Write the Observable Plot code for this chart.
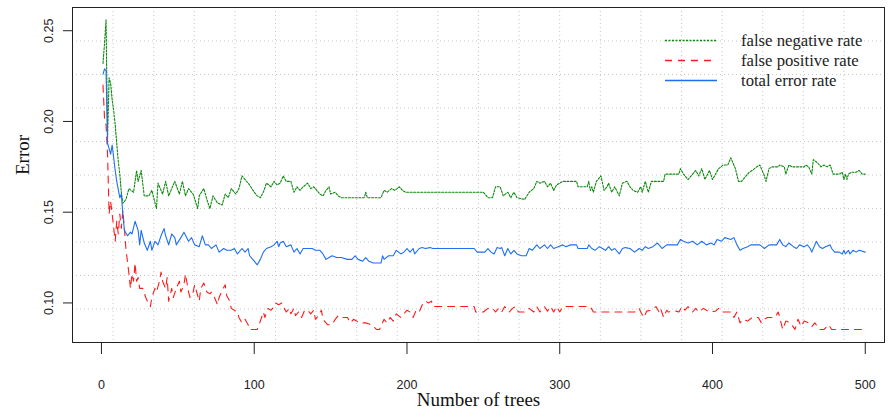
<!DOCTYPE html>
<html><head><meta charset="utf-8">
<script src="https://cdn.jsdelivr.net/npm/d3@7"></script>
<script src="https://cdn.jsdelivr.net/npm/@observablehq/plot@0.6"></script>
<style>
body{margin:0;background:#fff;}
#wrap{position:relative;width:890px;height:410px;overflow:hidden;background:#fff;}
#legend{position:absolute;left:0;top:0;}
</style></head><body><div id="wrap"></div>
<script>
const seriesNames = ["false negative rate", "false positive rate", "total error rate"];
const seriesColors = ["#0b8a0b", "#ff1a1a", "#1f6ff2"];
const seriesDash = ["2,1.5", "7,6", "none"];
const xTicks = [0, 100, 200, 300, 400, 500];
const yTicks = [0.10, 0.15, 0.20, 0.25];
const xLabel = "Number of trees";
const yLabel = "Error";

// false negative rate (green, dotted): [trees, error]
const fnRate = [[1,0.232],[2,0.243],[3,0.256],[4,0.191],[5,0.224],[6,0.221],[7,0.212],[8,0.206],[9,0.198],[10,0.188],[11,0.178],[12,0.171],[13,0.161],[14,0.155],[16,0.157],[18,0.163],[21,0.161],[23,0.173],[24,0.167],[26,0.173],[28,0.159],[31,0.159],[33,0.162],[36,0.152],[37,0.166],[40,0.160],[42,0.167],[44,0.159],[46,0.163],[48,0.167],[51,0.160],[53,0.167],[55,0.159],[57,0.163],[60,0.160],[63,0.152],[64,0.159],[67,0.163],[69,0.157],[71,0.152],[73,0.159],[76,0.155],[79,0.154],[81,0.160],[83,0.158],[85,0.163],[88,0.160],[90,0.163],[92,0.170],[94,0.168],[97,0.165],[100,0.161],[102,0.159],[104,0.158],[106,0.161],[108,0.166],[111,0.164],[113,0.167],[115,0.165],[117,0.166],[119,0.170],[121,0.167],[124,0.167],[126,0.161],[128,0.164],[130,0.162],[132,0.164],[135,0.166],[137,0.163],[139,0.164],[141,0.162],[143,0.160],[145,0.159],[147,0.162],[149,0.164],[150,0.160],[153,0.161],[155,0.159],[157,0.158],[172,0.158],[173,0.161],[174,0.158],[183,0.158],[185,0.162],[187,0.161],[190,0.163],[192,0.162],[195,0.164],[197,0.162],[199,0.161],[250,0.161],[253,0.158],[256,0.158],[258,0.164],[261,0.164],[263,0.159],[266,0.161],[268,0.158],[270,0.161],[272,0.158],[277,0.157],[280,0.161],[283,0.163],[285,0.167],[287,0.166],[290,0.167],[292,0.164],[294,0.166],[296,0.162],[298,0.165],[302,0.167],[311,0.167],[312,0.164],[318,0.164],[319,0.167],[320,0.162],[321,0.164],[322,0.161],[324,0.167],[327,0.170],[329,0.162],[331,0.164],[332,0.166],[334,0.161],[336,0.164],[339,0.159],[341,0.166],[344,0.167],[346,0.164],[348,0.162],[351,0.161],[353,0.164],[354,0.161],[356,0.167],[358,0.161],[360,0.167],[368,0.167],[369,0.171],[378,0.171],[379,0.174],[381,0.171],[384,0.168],[387,0.171],[389,0.173],[391,0.170],[393,0.174],[395,0.168],[398,0.173],[400,0.168],[402,0.171],[404,0.174],[407,0.176],[410,0.176],[412,0.180],[415,0.174],[417,0.167],[419,0.167],[422,0.170],[424,0.172],[426,0.173],[429,0.175],[431,0.176],[434,0.170],[435,0.167],[437,0.174],[439,0.175],[443,0.175],[444,0.176],[447,0.175],[448,0.171],[450,0.176],[452,0.175],[460,0.175],[461,0.176],[463,0.175],[465,0.171],[466,0.179],[469,0.177],[471,0.175],[473,0.176],[475,0.175],[477,0.176],[479,0.171],[483,0.171],[485,0.172],[486,0.168],[487,0.171],[488,0.168],[489,0.171],[491,0.172],[494,0.172],[496,0.173],[498,0.171],[500,0.171]];

// false positive rate (red, dashed)
const fpRate = [[1,0.220],[2,0.202],[3,0.198],[4,0.182],[5,0.149],[6,0.156],[7,0.149],[9,0.134],[10,0.145],[11,0.138],[12,0.149],[13,0.141],[14,0.151],[15,0.141],[16,0.130],[17,0.123],[18,0.116],[19,0.108],[20,0.116],[21,0.112],[22,0.122],[23,0.112],[24,0.114],[25,0.108],[27,0.108],[29,0.103],[30,0.101],[32,0.098],[33,0.103],[35,0.108],[36,0.106],[38,0.112],[39,0.117],[40,0.112],[42,0.108],[43,0.114],[44,0.101],[46,0.108],[47,0.103],[49,0.108],[51,0.112],[52,0.106],[54,0.110],[55,0.116],[57,0.106],[58,0.103],[60,0.106],[61,0.110],[64,0.101],[65,0.108],[67,0.111],[69,0.106],[71,0.105],[72,0.106],[74,0.103],[76,0.099],[77,0.103],[79,0.107],[81,0.110],[82,0.104],[84,0.101],[85,0.097],[87,0.096],[89,0.095],[90,0.092],[92,0.089],[94,0.091],[96,0.088],[97,0.0854],[102,0.0854],[104,0.090],[106,0.095],[107,0.092],[109,0.097],[111,0.096],[113,0.098],[114,0.100],[116,0.099],[118,0.100],[119,0.098],[121,0.095],[123,0.097],[124,0.094],[126,0.097],[127,0.093],[129,0.095],[131,0.092],[133,0.096],[135,0.096],[137,0.094],[139,0.096],[140,0.091],[142,0.093],[144,0.096],[145,0.091],[148,0.088],[151,0.088],[153,0.091],[155,0.093],[157,0.092],[161,0.092],[163,0.089],[165,0.091],[167,0.090],[169,0.089],[173,0.089],[177,0.088],[180,0.0854],[182,0.0854],[185,0.091],[187,0.089],[189,0.092],[191,0.090],[193,0.094],[196,0.092],[198,0.094],[200,0.096],[202,0.095],[204,0.092],[206,0.096],[208,0.095],[210,0.099],[212,0.101],[214,0.100],[216,0.101],[217,0.098],[244,0.098],[245,0.095],[250,0.095],[253,0.097],[256,0.097],[258,0.095],[260,0.097],[262,0.095],[264,0.098],[267,0.095],[269,0.097],[271,0.098],[273,0.095],[277,0.095],[280,0.097],[283,0.095],[285,0.098],[287,0.095],[290,0.098],[292,0.0955],[294,0.098],[296,0.095],[298,0.098],[300,0.095],[302,0.098],[320,0.098],[322,0.095],[349,0.095],[352,0.097],[353,0.095],[355,0.092],[357,0.0955],[360,0.096],[363,0.098],[365,0.095],[366,0.097],[368,0.092],[370,0.096],[371,0.095],[376,0.0955],[378,0.095],[380,0.098],[382,0.096],[384,0.098],[387,0.095],[389,0.097],[391,0.095],[394,0.097],[398,0.095],[402,0.0955],[404,0.097],[406,0.095],[412,0.095],[414,0.092],[416,0.095],[418,0.089],[420,0.091],[423,0.090],[426,0.092],[430,0.092],[432,0.089],[434,0.091],[436,0.092],[441,0.092],[443,0.095],[444,0.092],[446,0.0854],[448,0.090],[451,0.089],[454,0.0854],[456,0.091],[458,0.087],[460,0.090],[463,0.089],[465,0.087],[467,0.089],[470,0.0854],[473,0.0854],[476,0.088],[478,0.0854],[500,0.0854]];

// total error rate (blue, solid)
const totalRate = [[1,0.226],[2,0.229],[3,0.228],[4,0.188],[6,0.182],[7,0.187],[9,0.173],[10,0.167],[12,0.158],[13,0.160],[14,0.149],[15,0.140],[17,0.137],[19,0.139],[20,0.138],[22,0.145],[24,0.140],[25,0.132],[26,0.140],[28,0.133],[30,0.129],[32,0.134],[33,0.129],[35,0.134],[37,0.132],[39,0.137],[41,0.141],[42,0.137],[44,0.132],[46,0.138],[48,0.136],[49,0.132],[52,0.136],[54,0.139],[57,0.134],[59,0.136],[61,0.132],[64,0.131],[66,0.137],[68,0.132],[70,0.132],[72,0.130],[75,0.132],[77,0.128],[80,0.130],[82,0.129],[85,0.129],[87,0.130],[89,0.127],[92,0.130],[94,0.128],[96,0.130],[97,0.126],[100,0.123],[102,0.121],[104,0.124],[106,0.128],[108,0.130],[111,0.131],[113,0.132],[115,0.134],[116,0.131],[117,0.133],[119,0.134],[121,0.131],[124,0.132],[126,0.128],[128,0.130],[130,0.127],[132,0.130],[135,0.130],[138,0.130],[140,0.129],[143,0.129],[145,0.127],[147,0.124],[149,0.125],[151,0.126],[154,0.125],[157,0.125],[161,0.124],[164,0.124],[166,0.126],[168,0.124],[171,0.123],[173,0.125],[175,0.123],[178,0.122],[183,0.122],[184,0.126],[185,0.124],[188,0.126],[191,0.126],[193,0.129],[196,0.127],[198,0.128],[200,0.130],[202,0.128],[204,0.130],[205,0.127],[208,0.130],[210,0.1305],[212,0.130],[215,0.1305],[217,0.130],[244,0.130],[246,0.128],[251,0.128],[253,0.130],[255,0.128],[257,0.127],[259,0.1305],[261,0.130],[262,0.1305],[264,0.126],[266,0.130],[268,0.127],[270,0.129],[272,0.127],[275,0.126],[278,0.126],[280,0.130],[282,0.129],[285,0.132],[287,0.130],[290,0.132],[292,0.130],[294,0.132],[296,0.130],[299,0.131],[302,0.132],[304,0.131],[307,0.132],[311,0.132],[312,0.130],[318,0.130],[319,0.132],[321,0.130],[323,0.129],[326,0.131],[328,0.130],[330,0.129],[332,0.131],[334,0.129],[336,0.130],[339,0.127],[341,0.130],[343,0.1305],[346,0.130],[349,0.128],[352,0.130],[354,0.129],[356,0.131],[358,0.130],[361,0.131],[364,0.133],[366,0.131],[367,0.130],[370,0.132],[377,0.132],[379,0.135],[381,0.134],[384,0.133],[387,0.134],[390,0.132],[393,0.134],[396,0.132],[399,0.133],[401,0.132],[403,0.135],[406,0.134],[408,0.136],[412,0.135],[414,0.136],[416,0.132],[418,0.129],[420,0.130],[423,0.131],[425,0.132],[431,0.132],[434,0.130],[437,0.132],[442,0.132],[444,0.135],[446,0.132],[448,0.131],[450,0.133],[453,0.131],[455,0.130],[457,0.132],[460,0.131],[462,0.132],[464,0.130],[465,0.128],[468,0.134],[470,0.131],[472,0.130],[474,0.131],[477,0.132],[478,0.130],[480,0.128],[483,0.128],[485,0.127],[486,0.129],[487,0.127],[489,0.129],[490,0.127],[492,0.129],[494,0.128],[496,0.129],[500,0.128]];

const seriesData = [fnRate, fpRate, totalRate];

// plot region (R-style 4% extension of the data range)
const xDomain = [-18.96, 512.6];
const yDomain = [0.0782, 0.2628];
const gridX = d3.range(1, 20).map(i => xDomain[0] + i * (xDomain[1] - xDomain[0]) / 20);
const gridY = d3.range(1, 10).map(i => yDomain[0] + i * (yDomain[1] - yDomain[0]) / 10);

const serif = "'Liberation Serif', 'Times New Roman', serif";
const sans = "'Liberation Sans', Arial, sans-serif";

const lineMarks = seriesData.map((rows, i) =>
  Plot.line(rows, {x: d => d[0], y: d => d[1], stroke: seriesColors[i],
    strokeWidth: 1.1, strokeDasharray: seriesDash[i] === "none" ? null : seriesDash[i]}));

const chart = Plot.plot({
  width: 890, height: 410,
  marginLeft: 72, marginRight: 6, marginTop: 7, marginBottom: 68,
  x: {domain: xDomain},
  y: {domain: yDomain},
  style: {background: "#fff", fontFamily: sans},
  marks: [
    Plot.ruleX(gridX, {stroke: "#c8c8c8", strokeDasharray: "1,3"}),
    Plot.ruleY(gridY, {stroke: "#c8c8c8", strokeDasharray: "1,3"}),
    lineMarks[0], lineMarks[1], lineMarks[2],
    Plot.frame({stroke: "#222", strokeWidth: 1}),
    Plot.axisX(xTicks, {tickSize: 12, tickPadding: 26, tickFormat: d => String(d), fontSize: 12.5, fontFamily: sans, color: "#222", label: null}),
    Plot.axisY(yTicks, {tickSize: 9, tickFormat: () => "", label: null, color: "#222"}),
    Plot.text(yTicks, {x: xDomain[0], y: d => d, text: d => d.toFixed(2), dx: -24, rotate: -90,
      textAnchor: "middle", lineAnchor: "middle", fontSize: 12.5, fontFamily: sans, fill: "#222"}),
    Plot.text([yLabel], {frameAnchor: "left", dx: -50, rotate: -90, fontSize: 19, fontFamily: serif, fill: "#111"}),
    Plot.text([xLabel], {frameAnchor: "bottom", dy: 63, fontSize: 19, fontFamily: serif, fill: "#111"})
  ]
});

const wrap = document.getElementById("wrap");
wrap.appendChild(chart);

// legend (top right, no box)
const ns = "http://www.w3.org/2000/svg";
const leg = document.createElementNS(ns, "svg");
leg.setAttribute("id", "legend");
leg.setAttribute("width", 890);
leg.setAttribute("height", 110);
const legY = [40.5, 60.5, 80.5];
seriesNames.forEach((name, i) => {
  const ln = document.createElementNS(ns, "line");
  ln.setAttribute("x1", 665); ln.setAttribute("x2", 717);
  ln.setAttribute("y1", legY[i]); ln.setAttribute("y2", legY[i]);
  ln.setAttribute("stroke", seriesColors[i]);
  ln.setAttribute("stroke-width", 1.3);
  if (seriesDash[i] !== "none") ln.setAttribute("stroke-dasharray", seriesDash[i]);
  leg.appendChild(ln);
  const tx = document.createElementNS(ns, "text");
  tx.setAttribute("x", 741); tx.setAttribute("y", legY[i] + 5);
  tx.setAttribute("font-family", serif);
  tx.setAttribute("font-size", 16.7);
  tx.setAttribute("fill", "#222");
  tx.textContent = name;
  leg.appendChild(tx);
});
wrap.appendChild(leg);
</script>
</body></html>
